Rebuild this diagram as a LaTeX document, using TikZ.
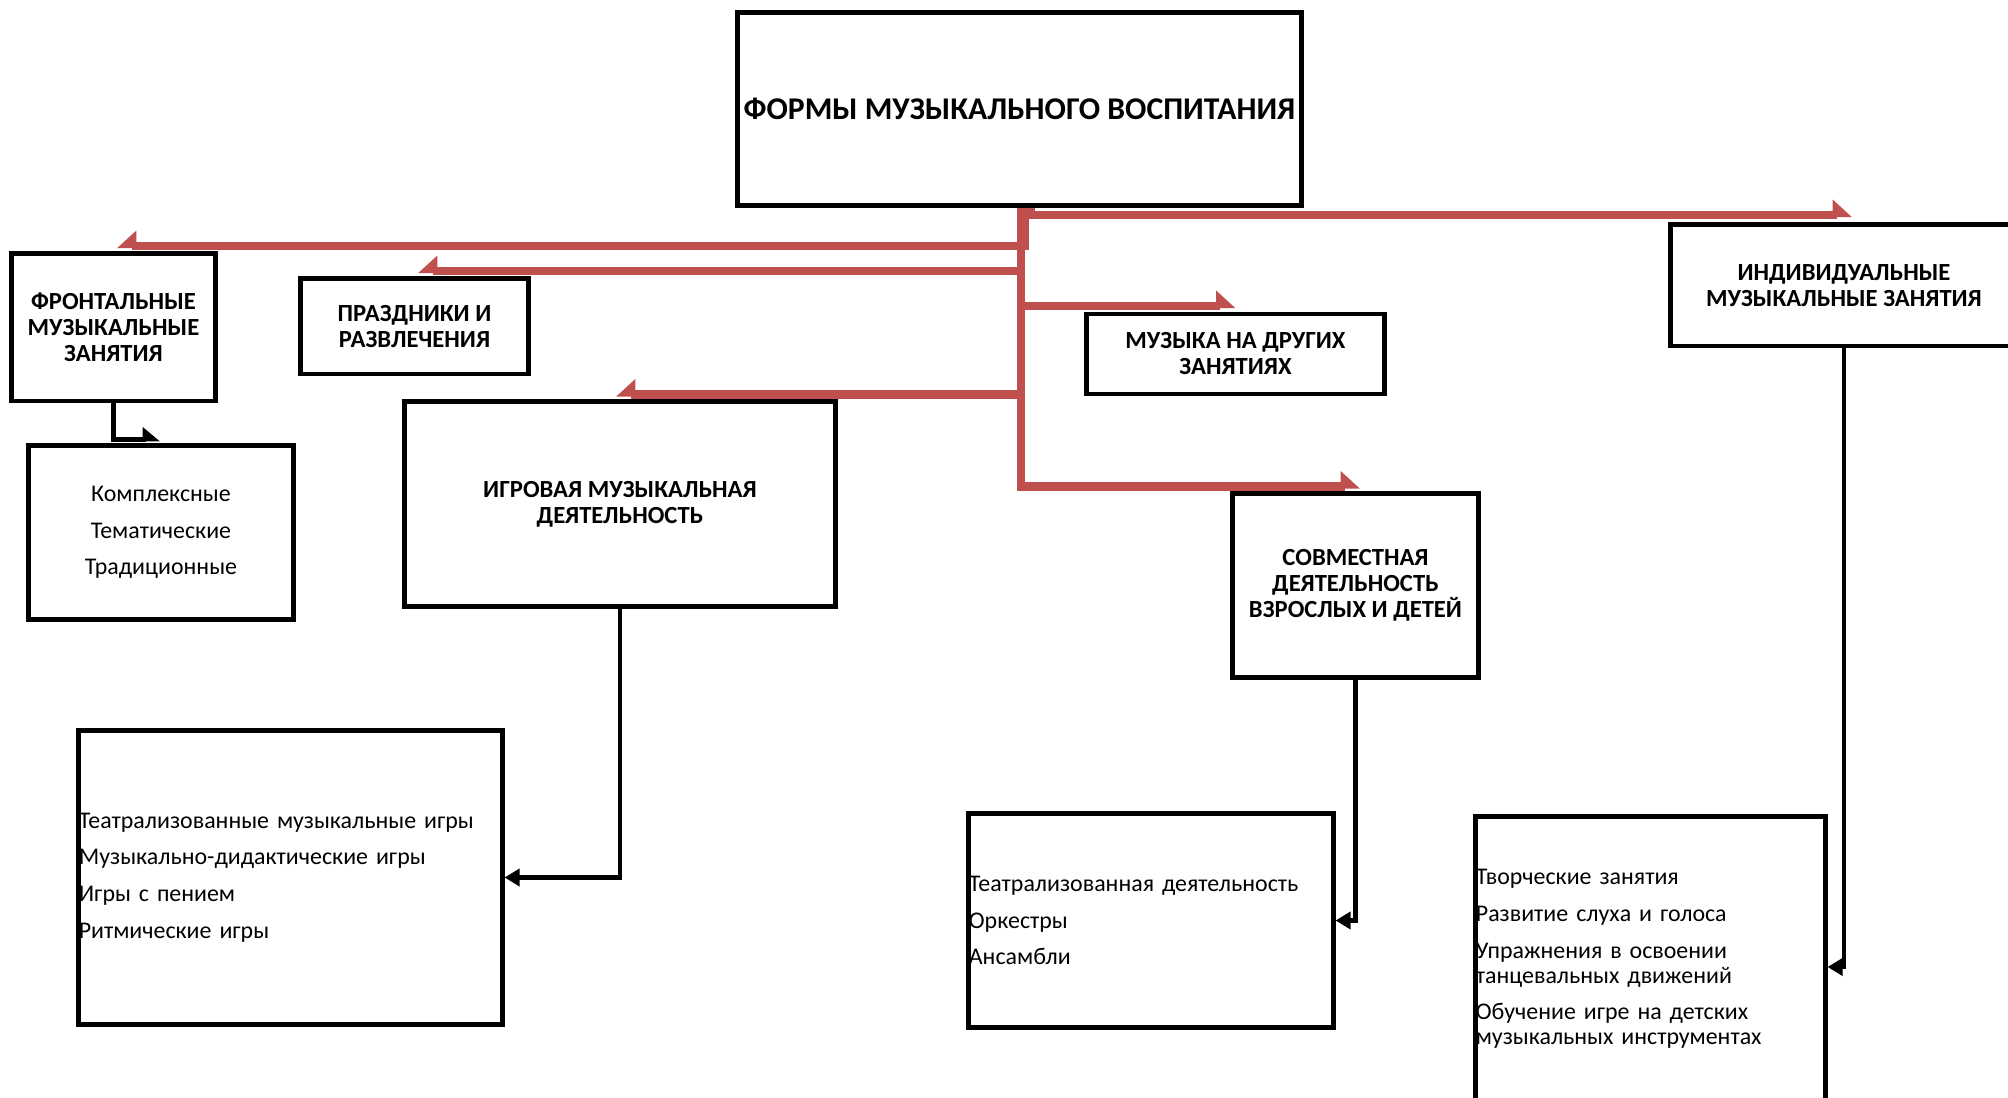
\documentclass[tikz,border=0pt]{standalone}
\usepackage{fontspec}
\setmainfont{Carlito}
\usetikzlibrary{arrows.meta}

\definecolor{linered}{RGB}{192,80,77}

\begin{document}
\begin{tikzpicture}[x = 0.01cm, y = -0.01cm,
	box/.style = {draw, line width = 1.4pt, inner sep = 0pt, align = center},
	head/.style = {box, font = \bfseries\fontsize{7}{7.4}\selectfont},
	list/.style = {box, align = left, inner sep = 0pt, font = \fontsize{6.8}{7.1}\selectfont},
	redline/.style = {linered, line width = 2.3pt, -{Triangle[harpoon, length = 0.17cm, width = 0.3cm]}},
	redleft/.style = {linered, line width = 2.3pt, -{Triangle[harpoon, swap, length = 0.17cm, width = 0.3cm]}},
	blackline/.style = {line width = 1.4pt, -{Triangle[length = 0.15cm, width = 0.17cm]}}]

	\useasboundingbox (0, 0) rectangle (2008, 1098);

	% Top box

	\node [head, minimum width = 5.63cm, minimum height = 1.92cm, font = \bfseries\fontsize{9}{11}\selectfont] (main) at (1019.5, 109) {ФОРМЫ МУЗЫКАЛЬНОГО ВОСПИТАНИЯ};

	% Forms

	\node [head, minimum width = 2.03cm, minimum height = 1.47cm] (frontal) at (113.5, 327.5) {ФРОНТАЛЬНЫЕ\\МУЗЫКАЛЬНЫЕ\\ЗАНЯТИЯ};
	\node [head, minimum width = 2.27cm, minimum height = 0.95cm] (holidays) at (414.5, 326.5) {ПРАЗДНИКИ И\\РАЗВЛЕЧЕНИЯ};
	\node [head, minimum width = 4.30cm, minimum height = 2.04cm] (game) at (620, 504) {ИГРОВАЯ МУЗЫКАЛЬНАЯ\\ДЕЯТЕЛЬНОСТЬ};
	\node [head, minimum width = 2.97cm, minimum height = 0.80cm] (other) at (1235.5, 354) {МУЗЫКА НА ДРУГИХ\\ЗАНЯТИЯХ};
	\node [head, minimum width = 2.45cm, minimum height = 1.83cm] (joint) at (1355.5, 585.5) {СОВМЕСТНАЯ\\ДЕЯТЕЛЬНОСТЬ\\ВЗРОСЛЫХ И ДЕТЕЙ};
	\node [head, minimum width = 3.46cm, minimum height = 1.21cm] (individual) at (1844, 285.5) {ИНДИВИДУАЛЬНЫЕ\\МУЗЫКАЛЬНЫЕ ЗАНЯТИЯ};

	% Kinds

	\node [box, minimum width = 2.64cm, minimum height = 1.73cm, font = \fontsize{6.8}{10.4}\selectfont] (complex) at (161, 532.5) {Комплексные\\Тематические\\Традиционные};
	\node [list, text width = 4.23cm, minimum height = 2.93cm] (games) at (290.5, 877.5) {Театрализованные музыкальные игры\\[3.3pt]Музыкально-дидактические игры\\[3.3pt]Игры с пением\\[3.3pt]Ритмические игры};
	\node [list, text width = 3.64cm, minimum height = 2.13cm] (theatre) at (1151, 920.5) {Театрализованная деятельность\\[3.3pt]Оркестры\\[3.3pt]Ансамбли};
	\node [list, text width = 3.49cm, minimum height = 2.84cm] (creative) at (1650.5, 959) {Творческие занятия\\[3.3pt]Развитие слуха и голоса\\[3.3pt]Упражнения в освоении\\танцевальных движений\\[3.3pt]Обучение игре на детских\\музыкальных инструментах};

	% Red connectors from the top box

	\draw [redline] ([xshift = 0.11cm]main.south) |- ([xshift = 0.08cm, yshift = 0.075cm]individual.north);
	\draw [redleft] ([xshift = 0.055cm]main.south) |- ([xshift = 0.035cm, yshift = 0.055cm]frontal.north);
	\draw [redleft] ([xshift = 0.015cm]main.south) |- ([xshift = 0.035cm, yshift = 0.055cm]holidays.north);
	\draw [redline] ([xshift = 0.015cm]main.south) |- ([yshift = 0.055cm]other.north);
	\draw [redleft] ([xshift = 0.015cm]main.south) |- ([xshift = -0.04cm, yshift = 0.05cm]game.north);
	\draw [redline] ([xshift = 0.015cm]main.south) |- ([xshift = 0.045cm, yshift = 0.05cm]joint.north);

	% Black connectors

	\draw [blackline, -{Triangle[harpoon, length = 0.15cm, width = 0.24cm]}] (frontal.south) |- ([xshift = -0.01cm, yshift = 0.04cm]complex.north);
	\draw [blackline] (game.south) |- (games.east);
	\draw [blackline] (joint.south) |- (theatre.east);
	\draw [blackline] (individual.south) |- ([yshift = -0.08cm]creative.east);

\end{tikzpicture}
\end{document}
